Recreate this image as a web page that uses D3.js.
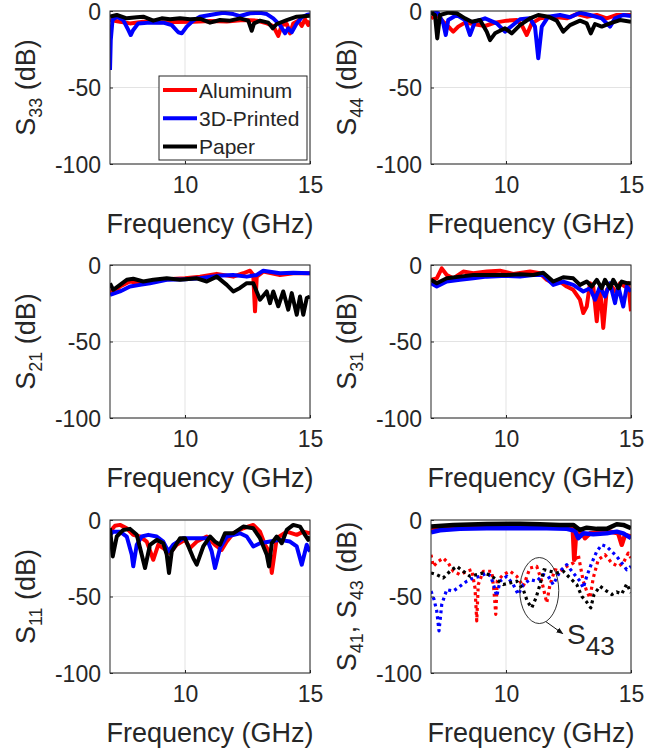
<!DOCTYPE html>
<html><head><meta charset="utf-8">
<script src="https://cdn.jsdelivr.net/npm/d3@7"></script>
<style>
body{margin:0;background:#fff}
svg{display:block}
text{font-family:Arial,"Liberation Sans",Helvetica,sans-serif;fill:#262626}
</style>
</head><body><svg id="c" width="646" height="751"></svg>
<script>
// ---- axis / category data ----
const xDomain = [7, 15];
const yDomain = [-100, 0];
const xTicks = [10, 15];
const yTicks = [0, -50, -100];
const seriesNames = ["Aluminum", "3D-Printed", "Paper"];
const seriesColors = ["#ff0000", "#0000ff", "#000000"];

// ---- S33 ----
const s33Aluminum = [[7.0,-5.9],[7.4,-7.0],[7.8,-8.1],[8.33,-7.0],[9.0,-7.4],[9.67,-7.2],[10.33,-7.0],[11.0,-6.5],[11.67,-6.8],[12.33,-5.9],[12.87,-6.3],[13.27,-8.1],[13.53,-9.8],[13.73,-16.3],[13.87,-9.2],[14.07,-8.5],[14.2,-14.6],[14.33,-8.1],[14.53,-6.3],[14.67,-9.8],[14.8,-5.4],[14.93,-9.2],[15.0,-6.3]];
const s33Printed = [[7.0,-38.6],[7.03,-19],[7.1,-5.9],[7.27,-3.7],[7.53,-5.9],[7.73,-12.4],[7.83,-15.7],[7.93,-12.4],[8.13,-8.1],[8.6,-7.6],[9.13,-7.6],[9.47,-9.2],[9.73,-13.9],[9.87,-14.6],[10.07,-10.2],[10.33,-6.3],[10.6,-3.7],[11.0,-2.6],[11.53,-1.1],[11.93,-2.0],[12.2,-3.3],[12.6,-1.5],[13.0,-1.1],[13.27,-2.0],[13.53,-4.8],[13.8,-9.2],[14.0,-14.6],[14.13,-11.3],[14.27,-13.9],[14.47,-8.1],[14.67,-4.1],[14.87,-2.6],[15.0,-2.0]];
const s33Paper = [[7.0,-3.7],[7.27,-2.6],[7.67,-4.8],[8.07,-4.1],[8.33,-3.7],[8.73,-6.3],[9.07,-4.8],[9.4,-5.4],[9.8,-4.8],[10.2,-5.4],[10.6,-5.0],[11.0,-7.6],[11.4,-5.9],[11.8,-6.3],[12.2,-4.8],[12.53,-6.3],[12.67,-12.9],[12.76,-8.1],[13.0,-6.3],[13.33,-7.6],[13.51,-11.3],[13.67,-8.5],[14.07,-5.9],[14.47,-3.7],[15.0,-3.1]];

// ---- S44 ----
const s44Aluminum = [[7.0,-4.8],[7.23,-2.6],[7.49,-7.0],[7.76,-11.3],[7.89,-13.5],[8.09,-10.2],[8.36,-7.6],[8.69,-8.5],[9.16,-9.8],[9.56,-7.6],[10.03,-6.3],[10.43,-5.9],[10.63,-9.2],[10.83,-15.7],[11.03,-8.1],[11.36,-4.8],[11.89,-3.7],[12.43,-4.8],[12.83,-2.0],[13.23,-3.7],[13.63,-2.6],[14.03,-4.8],[14.43,-2.6],[15.0,-2.6]];
const s44Printed = [[7.0,-0.4],[7.29,-1.5],[7.49,-8.1],[7.59,-15.7],[7.69,-5.9],[8.03,-2.6],[8.36,-5.9],[8.56,-15.7],[8.76,-7.0],[9.16,-4.8],[9.63,-8.1],[9.96,-13.5],[10.23,-9.8],[10.56,-5.4],[10.96,-4.8],[11.16,-10.2],[11.29,-30.9],[11.43,-10.2],[11.69,-3.7],[12.16,-2.6],[12.56,-4.1],[12.96,-1.1],[13.36,-2.6],[13.83,-4.8],[14.16,-10.2],[14.36,-4.8],[14.69,-2.6],[15.0,-3.3]];
const s44Paper = [[7.0,-1.1],[7.16,-2.6],[7.25,-17.9],[7.36,-2.6],[7.69,-1.1],[8.03,-1.5],[8.36,-4.8],[8.63,-7.0],[8.96,-5.9],[9.23,-13.5],[9.36,-19.0],[9.56,-14.6],[9.96,-11.3],[10.23,-14.6],[10.56,-9.2],[10.96,-4.8],[11.29,-2.6],[11.69,-3.7],[12.03,-6.3],[12.29,-13.5],[12.56,-9.2],[12.96,-6.3],[13.23,-8.1],[13.39,-14.6],[13.56,-8.5],[13.83,-10.2],[14.16,-8.1],[14.56,-5.9],[15.0,-7.0]];

// ---- S21 ----
const s21Aluminum = [[7.0,-16.2],[7.13,-18.4],[7.4,-14.1],[7.8,-10.8],[8.2,-11.9],[8.6,-10.8],[9.27,-9.3],[10.0,-8.7],[10.6,-7.6],[11.27,-5.8],[11.93,-7.6],[12.33,-5.4],[12.6,-3.7],[12.73,-6.5],[12.8,-30.3],[12.87,-7.6],[13.13,-4.3],[13.8,-6.5],[14.33,-5.4],[15.0,-5.4]];
const s21Printed = [[7.0,-19.5],[7.4,-17.3],[7.8,-14.1],[8.2,-13.0],[8.6,-11.9],[9.27,-9.7],[10.0,-9.3],[10.6,-8.7],[11.27,-7.1],[11.93,-6.5],[12.47,-7.6],[12.87,-6.5],[13.13,-3.7],[13.8,-5.4],[14.33,-5.0],[15.0,-5.4]];
const s21Paper = [[7.0,-12.0],[7.13,-16.2],[7.4,-13.0],[7.67,-9.7],[7.93,-9.0],[8.33,-10.8],[8.73,-9.7],[9.27,-8.7],[9.8,-9.7],[10.47,-8.7],[10.87,-10.8],[11.27,-7.6],[11.67,-13.0],[11.93,-17.3],[12.2,-15.0],[12.47,-11.9],[12.73,-11.9],[13.0,-22.7],[13.27,-17.3],[13.4,-24.9],[13.53,-17.3],[13.73,-27.0],[13.93,-17.3],[14.13,-29.2],[14.27,-18.4],[14.47,-32.5],[14.6,-20.6],[14.73,-32.5],[14.87,-21.6],[15.0,-20.6]];

// ---- S31 ----
const s31Aluminum = [[7.0,-9.7],[7.23,-8.7],[7.43,-2.2],[7.63,-6.5],[7.89,-8.7],[8.29,-4.3],[8.69,-5.4],[9.23,-4.3],[9.76,-3.7],[10.29,-5.8],[10.96,-4.3],[11.36,-5.4],[11.63,-9.7],[11.89,-11.9],[12.16,-10.8],[12.43,-14.1],[12.69,-16.2],[12.96,-22.7],[13.09,-31.4],[13.23,-27.1],[13.36,-11.9],[13.49,-14.1],[13.63,-36.8],[13.76,-14.1],[13.89,-41.1],[14.03,-16.2],[14.23,-14.1],[14.43,-18.4],[14.56,-11.9],[14.76,-14.1],[14.89,-11.9],[15.0,-30.3]];
const s31Printed = [[7.0,-11.9],[7.23,-14.1],[7.63,-10.8],[8.16,-9.7],[8.69,-8.7],[9.23,-7.6],[10.03,-7.1],[10.56,-7.6],[11.09,-6.5],[11.49,-6.5],[11.89,-13.0],[12.29,-10.8],[12.69,-13.0],[13.09,-17.3],[13.36,-15.2],[13.56,-22.7],[13.76,-14.1],[13.96,-20.6],[14.16,-11.9],[14.36,-24.9],[14.49,-14.1],[14.69,-27.1],[14.83,-14.1],[15.0,-17.3]];
const s31Paper = [[7.0,-9.7],[7.23,-11.9],[7.63,-8.7],[8.16,-7.6],[8.69,-6.5],[9.23,-6.5],[10.03,-6.5],[10.56,-6.1],[11.09,-6.5],[11.49,-5.0],[11.89,-10.8],[12.29,-8.0],[12.69,-8.7],[12.96,-13.0],[13.23,-10.8],[13.43,-14.1],[13.63,-9.7],[13.83,-15.2],[13.96,-9.7],[14.16,-15.2],[14.29,-9.7],[14.49,-15.2],[14.63,-10.8],[14.83,-11.9],[15.0,-11.9]];

// ---- S11 ----
const s11Aluminum = [[7.0,-7.6],[7.2,-3.7],[7.4,-3.2],[7.67,-5.4],[7.93,-9.7],[8.2,-10.8],[8.47,-14.1],[8.73,-26.0],[8.93,-16.2],[9.13,-18.4],[9.4,-21.6],[9.67,-16.2],[10.0,-13.0],[10.2,-18.4],[10.47,-14.1],[10.87,-10.8],[11.2,-16.2],[11.47,-19.5],[11.67,-14.1],[11.93,-8.7],[12.33,-5.4],[12.73,-3.2],[13.0,-7.6],[13.2,-16.2],[13.4,-21.6],[13.47,-34.6],[13.67,-11.9],[14.07,-7.6],[14.47,-9.7],[14.73,-7.6],[15.0,-8.7]];
const s11Printed = [[7.0,-9.7],[7.13,-7.6],[7.4,-7.6],[7.67,-10.8],[7.87,-22.7],[7.93,-30.3],[8.07,-16.2],[8.27,-10.8],[8.53,-9.7],[8.87,-10.8],[9.13,-14.1],[9.33,-20.6],[9.53,-16.2],[9.93,-11.9],[10.47,-11.9],[10.87,-11.9],[11.07,-20.6],[11.2,-31.4],[11.4,-18.4],[11.67,-10.8],[12.2,-8.7],[12.47,-10.8],[12.73,-17.3],[13.0,-15.2],[13.4,-14.1],[13.8,-13.0],[14.2,-14.1],[14.47,-17.3],[14.67,-29.2],[14.87,-16.2],[15.0,-20.6]];
const s11Paper = [[7.0,-5.4],[7.11,-23.8],[7.27,-10.8],[7.53,-6.5],[7.8,-5.8],[8.07,-9.7],[8.27,-22.7],[8.4,-31.4],[8.6,-16.2],[8.87,-13.0],[9.13,-15.2],[9.27,-22.7],[9.36,-34.6],[9.47,-20.6],[9.8,-11.9],[10.0,-11.9],[10.33,-24.9],[10.47,-29.2],[10.73,-17.3],[11.0,-10.8],[11.2,-14.1],[11.4,-16.2],[11.6,-8.7],[11.93,-8.7],[12.33,-4.3],[12.73,-5.4],[13.0,-11.9],[13.27,-22.7],[13.36,-30.3],[13.47,-15.2],[13.67,-10.8],[13.87,-15.2],[14.07,-6.5],[14.33,-3.2],[14.6,-4.3],[14.8,-9.7],[14.93,-13.0],[15.0,-10.8]];

// ---- S41 (solid) ----
const s41Aluminum = [[7.0,-6.5],[7.36,-5.8],[7.89,-3.7],[9.23,-3.7],[10.56,-3.7],[11.36,-3.9],[12.16,-4.3],[12.67,-5.0],[12.73,-26.0],[12.8,-9.3],[13.03,-7.6],[13.16,-11.9],[13.36,-8.7],[13.76,-8.0],[14.16,-7.6],[14.49,-8.7],[14.63,-16.2],[14.76,-9.7],[15.0,-10.8]];
const s41Printed = [[7.0,-8.0],[7.36,-6.7],[8.16,-5.8],[9.23,-5.4],[10.56,-5.4],[11.63,-5.4],[12.43,-5.8],[12.76,-7.1],[12.89,-11.9],[13.09,-8.7],[13.49,-9.3],[14.03,-8.7],[14.43,-7.6],[14.69,-8.7],[15.0,-11.9]];
const s41Paper = [[7.0,-4.3],[7.89,-3.2],[9.23,-2.6],[10.56,-2.4],[11.36,-2.8],[12.16,-3.2],[12.69,-3.2],[12.96,-6.5],[13.23,-5.0],[13.63,-5.8],[14.03,-5.8],[14.43,-2.8],[14.69,-3.2],[15.0,-5.4]];

// ---- S43 (dotted) ----
const s43Aluminum = [[7.0,-22.7],[7.09,-30.3],[7.29,-27.1],[7.49,-24.9],[7.69,-28.1],[7.89,-33.5],[8.16,-35.7],[8.43,-33.5],[8.63,-32.5],[8.76,-44.4],[8.83,-66.0],[8.89,-42.2],[9.09,-33.5],[9.43,-33.5],[9.52,-46.5],[9.59,-61.7],[9.65,-40.0],[9.89,-35.7],[10.16,-33.5],[10.43,-36.8],[10.69,-43.3],[10.96,-31.4],[11.23,-30.3],[11.43,-40.0],[11.63,-54.1],[11.76,-42.2],[11.96,-32.5],[12.16,-33.5],[12.43,-30.3],[12.69,-28.1],[12.89,-22.7],[13.09,-40.0],[13.23,-46.5],[13.36,-50.9],[13.49,-37.9],[13.69,-26.0],[13.96,-22.7],[14.23,-28.1],[14.49,-30.3],[14.69,-28.1],[14.89,-21.6],[15.0,-24.9]];
const s43Printed = [[7.0,-46.5],[7.12,-51.9],[7.23,-59.5],[7.32,-72.5],[7.43,-55.2],[7.63,-45.5],[7.89,-46.5],[8.16,-43.3],[8.43,-40.0],[8.69,-37.9],[8.96,-36.8],[9.23,-34.6],[9.39,-36.8],[9.52,-43.3],[9.63,-49.8],[9.76,-40.0],[10.03,-36.8],[10.29,-42.2],[10.49,-48.7],[10.69,-42.2],[10.96,-39.0],[11.23,-40.0],[11.49,-35.7],[11.69,-36.8],[11.89,-42.2],[12.16,-33.5],[12.43,-29.2],[12.69,-34.6],[12.96,-40.0],[13.09,-44.4],[13.23,-36.8],[13.43,-28.1],[13.63,-20.6],[13.83,-16.2],[14.03,-17.3],[14.23,-20.6],[14.43,-23.8],[14.63,-28.1],[14.83,-32.5],[15.0,-30.3]];
const s43Paper = [[7.0,-34.6],[7.23,-35.7],[7.49,-37.9],[7.76,-33.5],[8.03,-30.3],[8.29,-33.5],[8.56,-36.8],[8.83,-35.7],[9.09,-34.6],[9.36,-36.1],[9.63,-39.0],[9.89,-42.2],[10.16,-41.1],[10.43,-40.0],[10.69,-45.5],[10.85,-53.0],[11.03,-57.4],[11.2,-50.9],[11.36,-42.2],[11.52,-32.5],[11.76,-33.5],[12.03,-34.6],[12.29,-33.5],[12.56,-37.9],[12.83,-42.2],[13.03,-49.8],[13.2,-53.0],[13.39,-57.4],[13.52,-48.7],[13.76,-43.3],[14.03,-46.5],[14.23,-48.7],[14.43,-47.0],[14.63,-48.3],[14.83,-41.8],[15.0,-47.6]];

// ---- panel definitions ----
const panels = [
  {row:0, col:0, label:[["S",0],["33",1],[" (dB)",0]], solid:[s33Aluminum,s33Printed,s33Paper], legend:true},
  {row:0, col:1, label:[["S",0],["44",1],[" (dB)",0]], solid:[s44Aluminum,s44Printed,s44Paper]},
  {row:1, col:0, label:[["S",0],["21",1],[" (dB)",0]], solid:[s21Aluminum,s21Printed,s21Paper]},
  {row:1, col:1, label:[["S",0],["31",1],[" (dB)",0]], solid:[s31Aluminum,s31Printed,s31Paper]},
  {row:2, col:0, label:[["S",0],["11",1],[" (dB)",0]], solid:[s11Aluminum,s11Printed,s11Paper]},
  {row:2, col:1, label:[["S",0],["41",1],[", S",0],["43",1],[" (dB)",0]], solid:[s41Aluminum,s41Printed,s41Paper], dotted:[s43Aluminum,s43Printed,s43Paper], note:true}
];

const rowTops = [11, 265, 520];
const colLefts = [110, 431];
const W = 200, H = 153;

const svg = d3.select("#c");
const axisColor = "#262626";

panels.forEach((p, i) => {
  const x0 = colLefts[p.col], y0 = rowTops[p.row];
  const g = svg.append("g").attr("transform", `translate(${x0},${y0})`);
  const x = d3.scaleLinear().domain(xDomain).range([0, W]);
  const y = d3.scaleLinear().domain(yDomain).range([H, 0]);

  g.append("rect").attr("width", W).attr("height", H).attr("fill", "#fff");
  // grid
  g.selectAll(".gx").data(xTicks).enter().append("line")
    .attr("x1", d => x(d)).attr("x2", d => x(d)).attr("y1", 0).attr("y2", H)
    .attr("stroke", "#e3e3e3").attr("stroke-width", 1);
  g.selectAll(".gy").data(yTicks).enter().append("line")
    .attr("y1", d => y(d)).attr("y2", d => y(d)).attr("x1", 0).attr("x2", W)
    .attr("stroke", "#e3e3e3").attr("stroke-width", 1);

  const clipId = "clip" + i;
  g.append("clipPath").attr("id", clipId).append("rect").attr("width", W).attr("height", H);
  const plot = g.append("g").attr("clip-path", `url(#${clipId})`);

  const line = d3.line().x(d => x(d[0])).y(d => y(d[1])).curve(d3.curveLinear);

  if (p.dotted) {
    p.dotted.forEach((s, k) => {
      plot.append("path").datum(s).attr("d", line).attr("fill", "none")
        .attr("stroke", seriesColors[k]).attr("stroke-width", 3.2)
        .attr("stroke-dasharray", "3 3.5").attr("stroke-linejoin", "round");
    });
  }
  p.solid.forEach((s, k) => {
    plot.append("path").datum(s).attr("d", line).attr("fill", "none")
      .attr("stroke", seriesColors[k]).attr("stroke-width", p.dotted ? 4.5 : 4)
      .attr("stroke-linejoin", "round");
  });

  // axes (d3 axes with inside ticks)
  const xAxis = d3.axisBottom(x).tickValues(xTicks).tickSize(-3).tickPadding(12).tickFormat(d3.format("d"));
  const yAxis = d3.axisLeft(y).tickValues(yTicks).tickSize(-3).tickPadding(12).tickFormat(d => d3.format("d")(d).replace("−", "-"));
  const gx = g.append("g").attr("transform", `translate(0,${H})`).call(xAxis);
  const gy = g.append("g").call(yAxis);
  [gx, gy].forEach(a => {
    a.select(".domain").remove();
    a.selectAll(".tick line").attr("stroke", axisColor);
    a.selectAll(".tick text").attr("fill", axisColor).style("font-size", "23px")
      .style("font-family", 'Arial,"Liberation Sans",Helvetica,sans-serif');
  });
  gx.selectAll(".tick text").attr("dy", "0.71em").attr("y", 13);
  gy.selectAll(".tick text").attr("x", -9).attr("dy", "0.36em");
  // box
  g.append("rect").attr("width", W).attr("height", H).attr("fill", "none")
    .attr("stroke", axisColor).attr("stroke-width", 1);

  // x label
  g.append("text").attr("x", W / 2).attr("y", H + 69).attr("text-anchor", "middle")
    .style("font-size", "27px").text("Frequency (GHz)");

  // y label
  const yl = g.append("text")
    .attr("transform", `translate(${-75},${H / 2}) rotate(-90)`)
    .attr("text-anchor", "middle").style("font-size", "27px");
  let shifted = false;
  p.label.forEach(([t, sub]) => {
    const ts = yl.append("tspan").text(t);
    if (sub && !shifted) { ts.attr("dy", 7).style("font-size", "18px"); shifted = true; }
    else if (!sub && shifted) { ts.attr("dy", -7); shifted = false; }
    else if (sub) ts.style("font-size", "18px");
  });

  if (p.legend) {
    const lg = g.append("g").attr("transform", "translate(49,65)");
    lg.append("rect").attr("width", 148).attr("height", 84).attr("fill", "#fff")
      .attr("stroke", axisColor).attr("stroke-width", 1);
    seriesNames.forEach((n, k) => {
      const yy = 14 + k * 28.3;
      lg.append("line").attr("x1", 4).attr("x2", 38).attr("y1", yy).attr("y2", yy)
        .attr("stroke", seriesColors[k]).attr("stroke-width", 4);
      lg.append("text").attr("x", 40).attr("y", yy).attr("dy", "0.36em")
        .style("font-size", "21px").attr("fill", "#000").text(n);
    });
  }

  if (p.note) {
    const cx = x(11.33), cy = y(-46.1);
    g.append("ellipse").attr("cx", cx).attr("cy", cy).attr("rx", 19.5).attr("ry", 33)
      .attr("fill", "none").attr("stroke", "#333").attr("stroke-width", 1);
    const ax1 = x(11.6), ay1 = y(-66.5), ax2 = x(12.27), ay2 = y(-74.3);
    g.append("defs").append("marker").attr("id", "arr").attr("viewBox", "0 0 10 10")
      .attr("refX", 9).attr("refY", 5).attr("markerWidth", 7).attr("markerHeight", 7)
      .attr("orient", "auto").append("path").attr("d", "M0,1 L10,5 L0,9 Z").attr("fill", "#111");
    g.append("line").attr("x1", ax1).attr("y1", ay1).attr("x2", ax2).attr("y2", ay2)
      .attr("stroke", "#111").attr("stroke-width", 1).attr("marker-end", "url(#arr)");
    const nt = g.append("text").attr("x", x(12.44)).attr("y", y(-81)).style("font-size", "28px");
    nt.append("tspan").text("S");
    nt.append("tspan").attr("dy", 11).style("font-size", "26px").text("43");
  }
});
</script>
</body></html>
